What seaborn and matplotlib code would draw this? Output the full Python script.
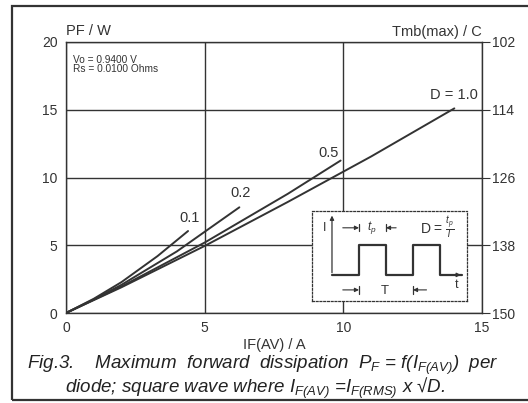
import numpy as np
import pandas as pd
import seaborn as sns
import matplotlib.pyplot as plt
from matplotlib.patches import Rectangle

# values (Fig.3)
duty = ['0.1', '0.2', '0.5', '1.0']
if_d01 = [0, 1, 2, 3.3, 4.4]
pf_d01 = [0, 1.05, 2.28, 4.2, 6.05]
if_d02 = [0, 1, 2, 4, 6.25]
pf_d02 = [0, 1.0, 2.08, 4.55, 7.8]
if_d05 = [0, 2, 5, 8, 9.9]
pf_d05 = [0, 1.96, 5.2, 8.8, 11.25]
if_d10 = [0, 2, 5, 8, 11, 14]
pf_d10 = [0, 1.9, 4.95, 8.2, 11.55, 15.1]

label_pos = {'0.1': (4.45, 7.0), '0.2': (6.3, 8.85), '0.5': (9.45, 11.8)}

xticks = [0, 5, 10, 15]
yticks = [0, 5, 10, 15, 20]
tmb_ticks = [102, 114, 126, 138, 150]

# inset square wave sketch (schematic units)
wave_t = [0, 2, 2, 4, 4, 6, 6, 8, 8, 9.6]
wave_i = [0, 0, 1, 1, 0, 0, 1, 1, 0, 0]

rows = []
for d, xs, ys in zip(duty, [if_d01, if_d02, if_d05, if_d10],
                     [pf_d01, pf_d02, pf_d05, pf_d10]):
    for x, y in zip(xs, ys):
        rows.append({'D': d, 'IF': x, 'PF': y})
df = pd.DataFrame(rows)

sns.set_style('white')
plt.rcParams['font.family'] = ['Liberation Sans', 'DejaVu Sans']
plt.rcParams['mathtext.fontset'] = 'custom'
plt.rcParams['mathtext.it'] = 'Liberation Sans:italic'
plt.rcParams['mathtext.rm'] = 'Liberation Sans:italic'

ink = '#333333'
fig = plt.figure(figsize=(5.28, 4.03), dpi=100)
ax = fig.add_axes([0.125, 0.2233, 0.788, 0.6725])

sns.lineplot(data=df, x='IF', y='PF', hue='D', palette=[ink] * 4,
             linewidth=1.4, legend=False, ax=ax, sort=False)

ax.set_xlim(0, 15)
ax.set_ylim(0, 20)
ax.set_xticks(xticks)
ax.set_yticks(yticks)
ax.grid(True, color=ink, linewidth=1.0)
for s in ax.spines.values():
    s.set_color(ink)
    s.set_linewidth(1.0)
ax.tick_params(length=0, labelsize=10, colors=ink, pad=6)
ax.set_xlabel('IF(AV) / A', fontsize=10.5, color=ink, labelpad=2)
ax.set_ylabel('')
ax.text(0, 20.3, 'PF / W', fontsize=10.5, color=ink, ha='left', va='bottom')

for d, (x, y) in label_pos.items():
    ax.text(x, y, d, fontsize=10.5, color=ink, ha='center', va='center')
ax.text(14.85, 16.1, 'D = 1.0', fontsize=10.5, color=ink, ha='right', va='center')
ax.text(0.25, 18.35, 'Vo = 0.9400 V\nRs = 0.0100 Ohms', fontsize=7.3,
        color=ink, ha='left', va='center', linespacing=0.85)

ax2 = ax.twinx()
ax2.set_ylim(150, 102)
ax2.set_yticks(tmb_ticks)
ax2.tick_params(direction='out', length=6, labelsize=10, colors=ink, pad=1)
for s in ax2.spines.values():
    s.set_visible(False)
ax2.text(1.0, 1.01, 'Tmb(max) / C', transform=ax.transAxes, fontsize=10.5,
         color=ink, ha='right', va='bottom')

# inset with the square wave definition
axi = fig.add_axes([312 / 528, 1 - 301 / 403, 155 / 528, 90 / 403])
axi.set_facecolor('white')
axi.set_zorder(5)
for s in axi.spines.values():
    s.set_linestyle((0, (1.5, 1.5)))
    s.set_color(ink)
    s.set_linewidth(0.9)
axi.set_xticks([])
axi.set_yticks([])
axi.set_xlim(-1.48, 10.0)
axi.set_ylim(-0.87, 2.13)
sns.lineplot(x=wave_t, y=wave_i, ax=axi, color=ink, linewidth=1.6,
             sort=False, estimator=None)
axi.annotate('', xy=(0, 2.07), xytext=(0, -0.02),
             arrowprops=dict(arrowstyle='-|>', color=ink, lw=0.9, mutation_scale=6))
axi.annotate('', xy=(9.75, 0), xytext=(8.5, 0),
             arrowprops=dict(arrowstyle='-|>', color=ink, lw=0.9, mutation_scale=6))
axi.text(-0.52, 1.57, 'I', fontsize=9, color=ink, ha='center', va='center')
axi.text(9.25, -0.33, 't', fontsize=9, color=ink, ha='center', va='center')


def marker(x_bar, x_from, y):
    axi.annotate('', xy=(x_bar, y), xytext=(x_from, y),
                 arrowprops=dict(arrowstyle='-|>', color=ink, lw=0.8,
                                 mutation_scale=6, shrinkA=0, shrinkB=0))
    axi.plot([x_bar, x_bar], [y - 0.12, y + 0.12], color=ink, lw=0.9)


marker(2.0, 0.8, 1.57)
marker(4.0, 4.75, 1.57)
axi.text(2.95, 1.57, r'$t_p$', fontsize=8.5, color=ink, ha='center', va='center')
axi.text(7.8, 1.57, r'D = $\frac{t_p}{T}$', fontsize=10, color=ink,
         ha='center', va='center')
marker(2.0, 0.8, -0.5)
marker(6.0, 7.0, -0.5)
axi.text(3.9, -0.53, 'T', fontsize=9.5, color=ink, ha='center', va='center')

# caption
fig.text(27 / 528, 1 - 365 / 403,
         r'Fig.3.    Maximum  forward  dissipation  $P_F$ = f($I_{F(AV)}$)  per',
         fontsize=13.5, style='italic', color='#222222', ha='left', va='center')
fig.text(65 / 528, 1 - 388 / 403,
         r'diode; square wave where $I_{F(AV)}$ =$I_{F(RMS)}$ x √D.',
         fontsize=13.5, style='italic', color='#222222', ha='left', va='center')

# outer frame of the scanned figure
fig.add_artist(Rectangle((12 / 528, 1 - 400 / 403), 1.2, 394 / 403,
                         transform=fig.transFigure, fill=False,
                         edgecolor='#333333', linewidth=1.6))

fig.savefig('out.png', dpi=100)
